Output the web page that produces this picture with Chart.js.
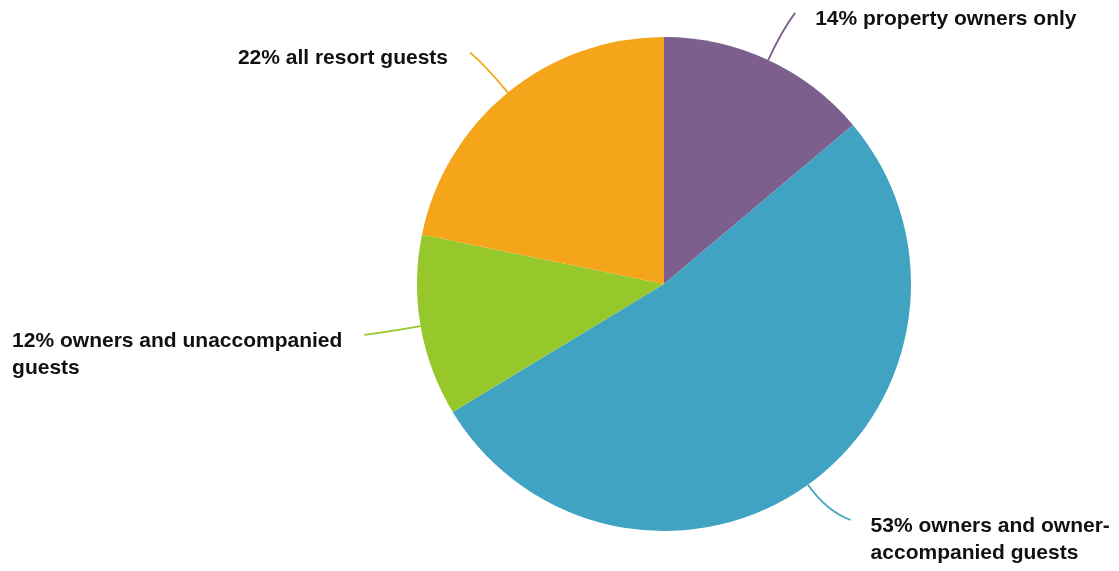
<!DOCTYPE html>
<html>
<head>
<meta charset="utf-8">
<script src="https://cdn.jsdelivr.net/npm/chart.js@4"></script>
<style>
    html, body { margin: 0; padding: 0; background: #fff; }
    #wrap { width: 1119px; height: 571px; }
</style>
</head>
<body>
<div id="wrap"><canvas id="myChart" width="1119" height="571"></canvas></div>
<script>
// values, clockwise from 12 o'clock
const shares = [14, 53, 12, 22];
const categories = [
    ['property owners only'],
    ['owners and owner-', 'accompanied guests'],
    ['owners and unaccompanied', 'guests'],
    ['all resort guests']
];
const colors = ['#7C5F8C', '#40A3C2', '#97C82B', '#F5A51A'];

const labelFont = 'bold 21px "Liberation Sans", Arial, sans-serif';
const lineHeight = 27;

// leader lines + labels outside the pie
const outerLabels = {
    id: 'outerLabels',
    afterDatasetsDraw(chart) {
        let ctx = chart.ctx;
        let meta = chart.getDatasetMeta(0);
        ctx.save();
        meta.data.forEach((arc, i) => {
            let mid = (arc.startAngle + arc.endAngle) / 2;
            let r = arc.outerRadius;
            let R = r + 52;
            let cos = Math.cos(mid), sin = Math.sin(mid);
            let side = cos >= 0 ? 1 : -1;

            let lines = categories[i].slice();
            lines[0] = shares[i] + '% ' + lines[0];

            let sx = arc.x + r * cos, sy = arc.y + r * sin;
            let cx = arc.x + (r + 33) * cos, cy = arc.y + (r + 33) * sin;
            let ex = arc.x + R * cos + side * 5, ey = arc.y + R * sin;

            // keep the label block inside the canvas
            let maxY = chart.height - 18 - 6 - (lines.length - 1) * lineHeight;
            if (ey > maxY) {
                ey = maxY;
                let dy = ey - arc.y;
                ex = arc.x + side * Math.sqrt(R * R - dy * dy) + side * 3;
            }

            ctx.strokeStyle = colors[i];
            ctx.lineWidth = 1.8;
            ctx.beginPath();
            ctx.moveTo(sx, sy);
            ctx.quadraticCurveTo(cx, cy, ex, ey);
            ctx.stroke();

            ctx.font = labelFont;
            ctx.fillStyle = '#111';
            ctx.textAlign = 'left';
            ctx.textBaseline = 'middle';
            let blockW = Math.max(...lines.map(l => ctx.measureText(l).width));
            let tx = side > 0 ? ex + 20 : ex - 22 - blockW;
            lines.forEach((l, k) => {
                ctx.fillText(l, tx, ey + 6 + k * lineHeight);
            });
        });
        ctx.restore();
    }
};

let ctx = document.getElementById('myChart').getContext('2d');
let myChart = new Chart(ctx, {
    type: 'pie',
    data: {
        labels: categories.map(c => c.join(' ')),
        datasets: [{
            data: shares,
            backgroundColor: colors,
            borderWidth: 0
        }]
    },
    options: {
        responsive: false,
        animation: false,
        layout: {
            padding: { left: 417, right: 208, top: 37, bottom: 40 }
        },
        plugins: {
            legend: { display: false },
            tooltip: { enabled: false }
        }
    },
    plugins: [outerLabels]
});
</script>
</body>
</html>
